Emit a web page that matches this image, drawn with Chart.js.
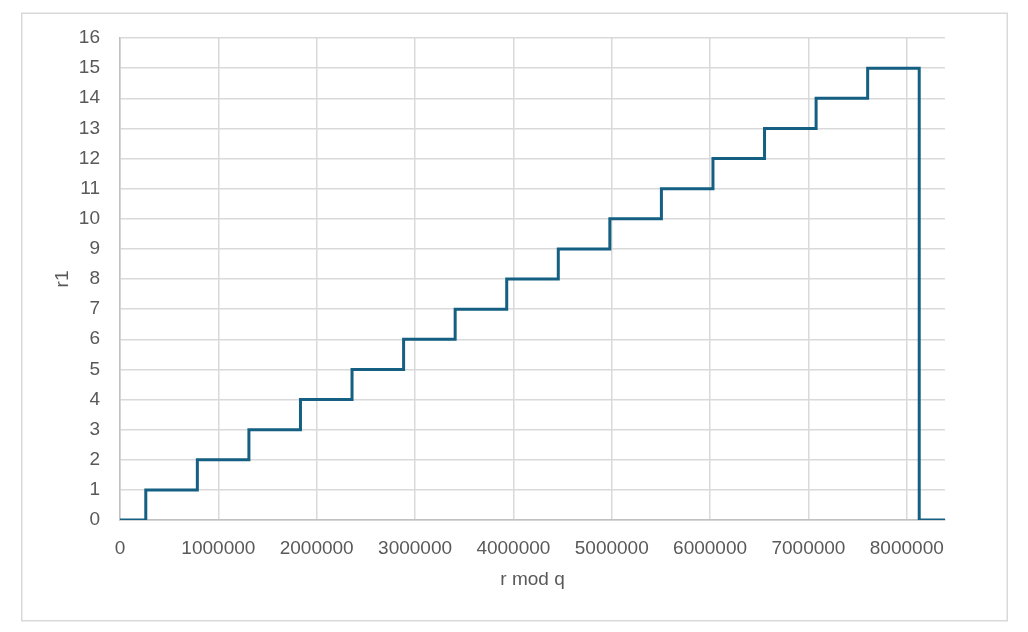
<!DOCTYPE html>
<html>
<head>
<meta charset="utf-8">
<script src="https://cdn.jsdelivr.net/npm/chart.js@4"></script>
<style>
  html, body { margin: 0; padding: 0; background: #fff; }
  #wrap { position: relative; width: 1028px; height: 632px; }
</style>
</head>
<body>
<div id="wrap"><canvas id="c" width="1028" height="632"></canvas></div>
<script>
// Step edges (r mod q) and r1 levels
const stepX = [0, 262144, 786432, 1310720, 1835008, 2359296, 2883584, 3407872, 3932160,
               4456448, 4980736, 5505024, 6029312, 6553600, 7077888, 7602176, 8126464, 8388608];
const r1 = [0, 1, 2, 3, 4, 5, 6, 7, 8, 9, 10, 11, 12, 13, 14, 15, 0, 0];
const xTicks = [0, 1000000, 2000000, 3000000, 4000000, 5000000, 6000000, 7000000, 8000000];
const xMax = 8388608;
const yMax = 16;
const xTitle = 'r mod q';
const yTitle = 'r1';

const points = stepX.map((x, i) => ({ x: x, y: r1[i] }));

const borderPlugin = {
  id: 'outerBorder',
  beforeDraw(chart) {
    const ctx = chart.ctx;
    ctx.save();
    ctx.strokeStyle = '#D9D9D9';
    ctx.lineWidth = 1.5;
    ctx.strokeRect(21.75, 13.25, 985.5, 607.5);
    ctx.restore();
  }
};

const fontFam = '"Liberation Sans", Arial, sans-serif';
const tickFont = { family: fontFam, size: 19 };

new Chart(document.getElementById('c'), {
  type: 'line',
  data: {
    datasets: [{
      data: points,
      stepped: 'before',
      borderColor: '#156082',
      borderWidth: 3,
      pointRadius: 0,
      fill: false,
      tension: 0
    }]
  },
  options: {
    responsive: false,
    animation: false,
    layout: { padding: { left: 0, top: 38, right: 83, bottom: 30 } },
    plugins: { legend: { display: false }, tooltip: { enabled: false } },
    scales: {
      x: {
        type: 'linear',
        min: 0,
        max: xMax,
        grid: { color: '#D9D9D9', lineWidth: 1.5, drawTicks: false },
        border: { color: '#C0C0C0', width: 1.5 },
        afterBuildTicks: (s) => { s.ticks = xTicks.map(v => ({ value: v })); },
        ticks: {
          maxRotation: 0,
          autoSkip: false,
          padding: 17,
          color: '#595959',
          font: tickFont,
          callback: (v) => String(v)
        },
        title: {
          display: true,
          text: xTitle,
          color: '#595959',
          font: { family: fontFam, size: 19 },
          padding: { top: 0, bottom: 11 }
        },
        afterFit: (s) => { s.height = 632 - 30 - 520; }
      },
      y: {
        min: 0,
        max: yMax,
        grid: { color: '#D9D9D9', lineWidth: 1.5, drawTicks: false },
        border: { color: '#C0C0C0', width: 1.5 },
        ticks: {
          stepSize: 1,
          padding: 20,
          color: '#595959',
          font: tickFont
        },
        title: {
          display: true,
          text: yTitle,
          color: '#595959',
          font: { family: fontFam, size: 19 },
          padding: { top: 51, bottom: 0 }
        },
        afterFit: (s) => { s.width = 120; }
      }
    }
  },
  plugins: [borderPlugin]
});
</script>
</body>
</html>
